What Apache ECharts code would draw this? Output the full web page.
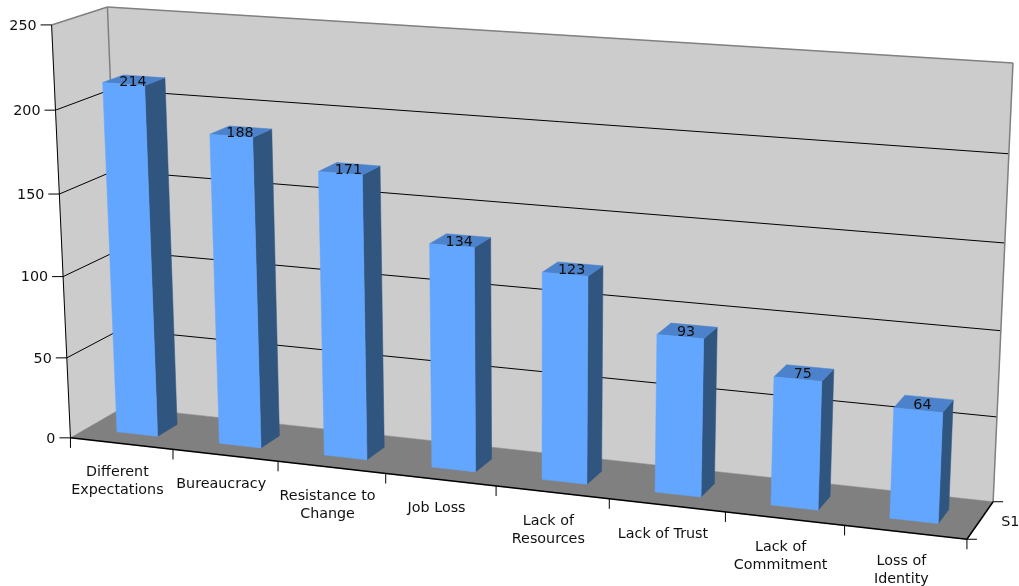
<!DOCTYPE html>
<html><head><meta charset="utf-8">
<style>html,body{margin:0;padding:0;background:#fff}#c{width:1019px;height:586px}</style>
<script src="https://cdn.jsdelivr.net/npm/echarts@6/dist/echarts.min.js"></script>
</head><body><div id="c"></div>
<script>
const categories = ['Different\nExpectations','Bureaucracy','Resistance to\nChange','Job Loss','Lack of\nResources','Lack of Trust','Lack of\nCommitment','Loss of\nIdentity'];
const values = [214,188,171,134,123,93,75,64];
const yTicks = [0,50,100,150,200,250];
const seriesName = 'S1';

// camera calibration of the 3D box: [u, height, depth] -> [px, py]
const cameraAnchors = [
  [0,0,0,70,438],[1,0,0,967,539],[0,0,1,124,407],[1,0,1,993,502],
  [0,1,0,52,25],[0,1,1,107,7],[1,1,1,1013,63]
];
function solveCamera(pts){
  const A=[],b=[];
  pts.forEach(([x,y,z,px,py])=>{
    const u=px/1000,v=py/1000;
    A.push([x,y,z,1,0,0,0,0,-u*x,-u*y,-u*z]);b.push(u);
    A.push([0,0,0,0,x,y,z,1,-v*x,-v*y,-v*z]);b.push(v);
  });
  const n=11,M=[];
  for(let i=0;i<n;i++){M.push(new Array(n+1).fill(0));
    for(let j=0;j<n;j++)for(let k=0;k<A.length;k++)M[i][j]+=A[k][i]*A[k][j];
    for(let k=0;k<A.length;k++)M[i][n]+=A[k][i]*b[k];
    M[i][i]+=1e-10;}
  for(let i=0;i<n;i++){let p=i;for(let r=i+1;r<n;r++)if(Math.abs(M[r][i])>Math.abs(M[p][i]))p=r;
    [M[i],M[p]]=[M[p],M[i]];
    for(let r=0;r<n;r++){if(r===i)continue;const f=M[r][i]/M[i][i];for(let c=i;c<=n;c++)M[r][c]-=f*M[i][c];}}
  return M.map((row,i)=>row[n]/row[i]);
}
const P=solveCamera(cameraAnchors);
function proj(x,y,z){
  const w=P[8]*x+P[9]*y+P[10]*z+1;
  return [1000*(P[0]*x+P[1]*y+P[2]*z+P[3])/w,1000*(P[4]*x+P[5]*y+P[6]*z+P[7])/w];
}
const FONT='DejaVu Sans, Verdana, sans-serif';
const C={wall:'#CCCCCC',floor:'#808080',edge:'#808080',axis:'#000000',front:'#62A6FF',side:'#30557F',top:'#4B82CB',text:'#111111'};
const poly=(pts,fill)=>({type:'polygon',shape:{points:pts},style:{fill:fill,stroke:fill,lineWidth:0.5},silent:true});
const line=(a,b,color,w)=>({type:'line',shape:{x1:a[0],y1:a[1],x2:b[0],y2:b[1]},style:{stroke:color,lineWidth:w||1},silent:true});
const text=(s,x,y,align)=>({type:'text',x:x,y:y,style:{text:s,fill:C.text,font:'14.3px '+FONT,align:align||'center',verticalAlign:'middle',lineHeight:18},silent:true});

function unitU(api,params,cat){return (api.coord([cat,0])[0]-params.coordSys.x)/params.coordSys.width;}
function unitH(api,params,val){const c=api.coord([0,val]);return 1-(c[1]-params.coordSys.y)/params.coordSys.height;}

function renderBox(params,api){
  const cs=params.coordSys; const ch=[];
  ch.push(poly([proj(0,0,1),proj(1,0,1),proj(1,1,1),proj(0,1,1)],C.wall));
  ch.push(poly([proj(0,0,0),proj(0,0,1),proj(0,1,1),proj(0,1,0)],C.wall));
  ch.push(poly([proj(0,0,0),proj(1,0,0),proj(1,0,1),proj(0,0,1)],C.floor));
  yTicks.forEach(t=>{
    const h=unitH(api,params,t);
    const a=proj(0,h,0),b=proj(0,h,1),d=proj(1,h,1);
    if(t>0&&t<250){ch.push(line(a,b,C.axis),line(b,d,C.axis));}
    if(t===250){ch.push(line(a,b,C.edge,1.5),line(b,d,C.edge,1.5));}
    ch.push(line([a[0]-11,a[1]],a,C.axis));
    ch.push(text(String(t),a[0]-15,a[1]+1,'right'));
  });
  ch.push(line(proj(0,0,1),proj(0,1,1),C.edge,1.5),line(proj(1,0,1),proj(1,1,1),C.edge,1.5));
  ch.push(line(proj(0,0,0),proj(0,1,0),C.axis));
  ch.push(line(proj(0,0,0),proj(1,0,0),C.axis,1.5));
  ch.push(line(proj(1,0,0),proj(1,0,1),C.axis,1.5));
  const band=api.size([1,0])[0]/cs.width;
  for(let i=0;i<=categories.length;i++){
    const p=proj(i*band,0,0);
    ch.push(line(p,[p[0],p[1]+10],C.axis));
  }
  [0,1].forEach(z=>{const p=proj(1,0,z);ch.push(line(p,[p[0]+10,p[1]],C.axis));});
  const s=proj(1,0,0.5);
  ch.push(text(seriesName,s[0]+30,s[1]+2,'center'));
  return {type:'group',children:ch};
}
function renderBar(params,api){
  const cs=params.coordSys;
  const i=api.value(0),v=api.value(1);
  const band=api.size([1,0])[0]/cs.width;
  const u=unitU(api,params,i),h=unitH(api,params,v);
  const w=band*0.4/2, z0=0.3,z1=0.68;
  const x0=u-w,x1=u+w;
  const foot=proj(u,0,0);
  const top=proj(u,h,0.5);
  const multi=categories[i].indexOf('\n')>=0;
  return {type:'group',children:[
    poly([proj(x1,0,z0),proj(x1,0,z1),proj(x1,h,z1),proj(x1,h,z0)],C.side),
    poly([proj(x0,h,z0),proj(x1,h,z0),proj(x1,h,z1),proj(x0,h,z1)],C.top),
    poly([proj(x0,0,z0),proj(x1,0,z0),proj(x1,h,z0),proj(x0,h,z0)],C.front),
    text(String(values[i]),top[0]-1.5,top[1]+2,'center'),
    text(categories[i],foot[0]-4,foot[1]+(multi?38:29),'center')
  ]};
}
const chart=echarts.init(document.getElementById('c'),null,{renderer:'canvas'});
chart.setOption({
  animation:false,backgroundColor:'#fff',
  grid:{left:0,right:0,top:0,bottom:0},
  xAxis:{type:'category',data:categories,show:false},
  yAxis:{type:'value',min:0,max:250,interval:50,show:false},
  series:[
    {type:'custom',name:'box',coordinateSystem:'cartesian2d',clip:false,silent:true,data:[[0,0]],renderItem:renderBox,z:1},
    {type:'custom',name:seriesName,coordinateSystem:'cartesian2d',clip:false,silent:true,data:values.map((v,i)=>[i,v]),renderItem:renderBar,z:2}
  ]
});
</script></body></html>
